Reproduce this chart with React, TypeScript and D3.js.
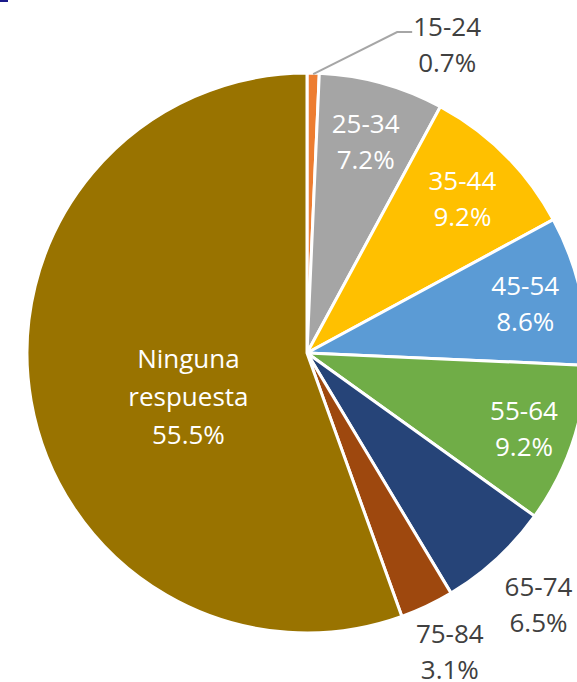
import React, { useEffect, useRef } from 'react';
import * as d3 from 'd3';

// age groups, clockwise from 12 o'clock
const ageGroups = ['15-24', '25-34', '35-44', '45-54', '55-64', '65-74', '75-84', 'Ninguna respuesta'];
const shares = [0.7, 7.2, 9.2, 8.6, 9.2, 6.5, 3.1, 55.5];
const shareLabels = ['0.7%', '7.2%', '9.2%', '8.6%', '9.2%', '6.5%', '3.1%', '55.5%'];
const sliceColors = ['#ED7D31', '#A5A5A5', '#FFC000', '#5B9BD5', '#70AD47', '#264478', '#9E480E', '#997300'];

type Slice = { name: string; value: number; label: string; color: string };

function drawPie(svgRoot: SVGSVGElement) {
    const svg = d3.select(svgRoot);
    svg.selectChildren().remove();

    const width = 577;
    const height = 682;
    const cx = 307;
    const cy = 353;
    const radius = 280;
    const lineGap = 36;

    const data: Slice[] = ageGroups.map((name, i) => ({
        name, value: shares[i], label: shareLabels[i], color: sliceColors[i],
    }));

    svg.attr('viewBox', [0, 0, width, height] as any)
        .attr('width', width)
        .attr('height', height);

    // stray mark in the top-left corner of the original
    svg.append('rect').attr('x', 0).attr('y', 0).attr('width', 8).attr('height', 2).attr('fill', '#1b1b8a');

    const pie = d3.pie<Slice>().value((d) => d.value).sort(null);
    const arcs = pie(data);
    const arc = d3.arc<d3.PieArcDatum<Slice>>().innerRadius(0).outerRadius(radius);

    const g = svg.append('g').attr('transform', `translate(${cx},${cy})`);

    g.selectAll('path.slice')
        .data(arcs)
        .enter().append('path')
        .attr('class', 'slice')
        .attr('d', arc)
        .attr('fill', (d) => d.data.color)
        .attr('stroke', '#ffffff')
        .attr('stroke-width', 3)
        .attr('stroke-linejoin', 'miter');

    // where each label sits: radius factor along the mid angle, plus nudges
    const placement: Record<string, { k: number; dx: number; dy: number; inside: boolean }> = {
        '25-34': { k: 0.785, dx: 0, dy: 0, inside: true },
        '35-44': { k: 0.785, dx: 0, dy: 0, inside: true },
        '45-54': { k: 0.80, dx: 0, dy: 0, inside: true },
        '55-64': { k: 0.82, dx: 0, dy: 0, inside: true },
        '65-74': { k: 1.22, dx: 0, dy: 0, inside: false },
        '75-84': { k: 1.19, dx: 0, dy: -3, inside: false },
        'Ninguna respuesta': { k: 0.43, dx: 0, dy: 22, inside: true },
    };

    const font = '"Open Sans", "Noto Sans", sans-serif';
    const fontSize = 26;

    arcs.forEach((d) => {
        const mid = (d.startAngle + d.endAngle) / 2;
        const name = d.data.name;
        let x: number, y: number, fill: string;
        if (name === '15-24') {
            // leader line from slice edge out to label
            const ex = radius * Math.sin(mid);
            const ey = -radius * Math.cos(mid);
            const elbow: [number, number] = [ex + 84, ey - 41];
            g.append('path')
                .attr('d', d3.line()([[ex, ey + 1], elbow, [elbow[0] + 15, elbow[1]]]))
                .attr('fill', 'none')
                .attr('stroke', '#A6A6A6')
                .attr('stroke-width', 2);
            x = elbow[0] + 50;
            y = elbow[1] + 12;
            fill = '#404040';
        } else {
            const p = placement[name];
            x = p.k * radius * Math.sin(mid) + p.dx;
            y = -p.k * radius * Math.cos(mid) + p.dy;
            fill = p.inside ? '#ffffff' : '#404040';
        }
        const lines = name === 'Ninguna respuesta' ? ['Ninguna', 'respuesta', d.data.label] : [name, d.data.label];
        const gap = name === 'Ninguna respuesta' ? lineGap + 2 : lineGap;
        const t = g.append('text')
            .attr('text-anchor', 'middle')
            .attr('font-family', font)
            .attr('font-size', fontSize)
            .attr('fill', fill);
        lines.forEach((ln, i) => {
            t.append('tspan')
                .attr('x', x)
                .attr('y', y + (i - (lines.length - 1) / 2) * gap)
                .attr('dominant-baseline', 'central')
                .text(ln);
        });
    });
}

export default function App() {
    const svgRef = useRef<SVGSVGElement>(null);

    useEffect(() => {
        svgRef.current && drawPie(svgRef.current);
    }, []);

    return (
        <div style={{ position: 'absolute', left: 0, top: 0, width: 577, height: 682, background: '#ffffff' }}>
            <svg ref={svgRef} style={{ display: 'block' }} />
        </div>
    );
}
